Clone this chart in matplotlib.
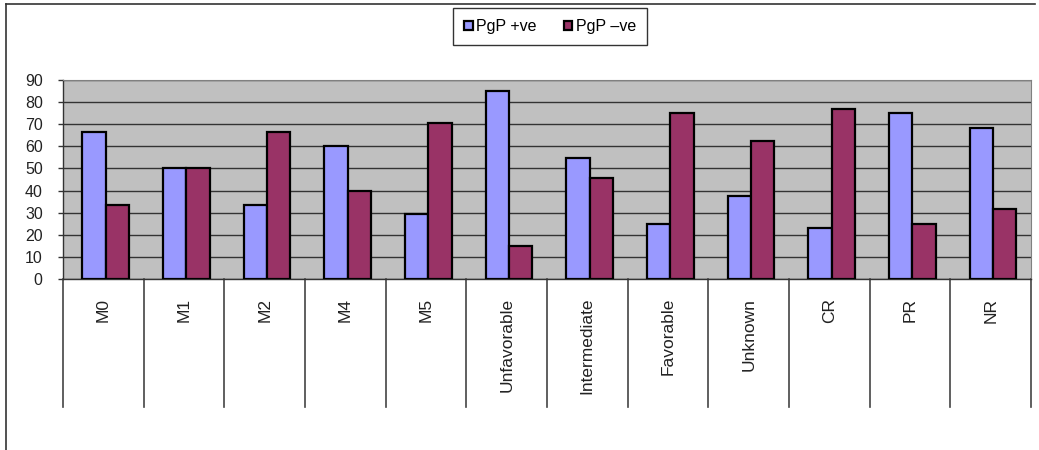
import matplotlib
matplotlib.use("Agg")
import matplotlib.pyplot as plt
import numpy as np
from matplotlib.lines import Line2D
from matplotlib.transforms import blended_transform_factory

plt.rcParams['font.family'] = ['Liberation Sans', 'DejaVu Sans']

categories = ["M0", "M1", "M2", "M4", "M5", "Unfavorable", "Intermediate",
              "Favorable", "Unknown", "CR", "PR", "NR"]
pgp_pos = [66.7, 50, 33.3, 60, 29.4, 85, 54.5, 25, 37.5, 23.1, 75, 68.4]
pgp_neg = [33.3, 50, 66.7, 40, 70.6, 15, 45.5, 75, 62.5, 76.9, 25, 31.6]
series_names = ["PgP +ve", "PgP \u2013ve"]
yticks = list(range(0, 91, 10))

W, H = 1039, 450
fig = plt.figure(figsize=(W / 100, H / 100), dpi=100)
ax = fig.add_axes([63 / W, 1 - 279 / H, (1031 - 63) / W, (279 - 80) / H])
ax.set_facecolor('#C0C0C0')

x = np.arange(len(categories))
bw = 0.29
shift = 0.03
ax.bar(x - bw / 2 + shift, pgp_pos, bw, color='#9999FF', edgecolor='black',
       linewidth=1.6, label=series_names[0], zorder=3)
ax.bar(x + bw / 2 + shift, pgp_neg, bw, color='#993366', edgecolor='black',
       linewidth=1.6, label=series_names[1], zorder=3)

ax.set_xlim(-0.5, len(categories) - 0.5)
ax.set_ylim(0, 90)
ax.set_yticks(yticks)
ax.set_yticklabels([str(t) for t in yticks], fontsize=11.5, color='#222222')
ax.yaxis.grid(True, color='#333333', linewidth=1.0, zorder=1)
ax.set_axisbelow(True)
ax.tick_params(axis='y', length=3.6, width=1, pad=11, color='#333333')
ax.set_xticks([])

for side in ['top', 'right']:
    ax.spines[side].set_color('#808080')
for side in ['left', 'bottom']:
    ax.spines[side].set_color('#333333')
    ax.spines[side].set_linewidth(1.0)

# category separators and rotated labels below the axis
trans = blended_transform_factory(ax.transData, ax.transAxes)
sep_bottom = -(407 - 279) / (279 - 80)
for b in np.arange(-0.5, len(categories), 1.0):
    ax.add_line(Line2D([b, b], [0, sep_bottom], transform=trans, color='#444444',
                       linewidth=1.2, clip_on=False))
lab_top = -(298 - 279) / (279 - 80)
for i, c in enumerate(categories):
    ax.text(i, lab_top, c, transform=trans, rotation=90, ha='center', va='top',
            fontsize=12.5, color='#222222')

leg = fig.legend(loc='center', bbox_to_anchor=(550 / W, 1 - 26.5 / H), ncol=2,
                 fontsize=11.5, frameon=True, fancybox=False, edgecolor='black',
                 handlelength=0.55, handleheight=0.55, handletextpad=0.2,
                 columnspacing=1.7, borderpad=0.7, borderaxespad=0)
leg.get_frame().set_linewidth(1.0)

# outer chart frame
fig.add_artist(Line2D([6 / W, 1035 / W], [1 - 4 / H, 1 - 4 / H],
                      transform=fig.transFigure, color='#333333', linewidth=1.2))
fig.add_artist(Line2D([6 / W, 6 / W], [1 - 4 / H, 0], transform=fig.transFigure,
                      color='#333333', linewidth=1.2))

fig.savefig('out.png', dpi=100)
